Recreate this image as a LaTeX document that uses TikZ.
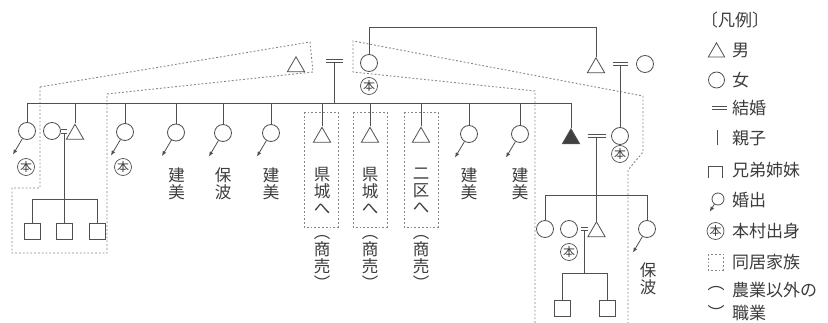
\documentclass[tikz,border=0pt]{standalone}
\usepackage{fontspec}
\newfontfamily\cjk{Noto Sans CJK JP}
\usetikzlibrary{shapes.geometric,arrows.meta,calc}
\definecolor{ln}{HTML}{505050}
\definecolor{tx}{HTML}{3C3C3C}
\definecolor{dsh}{HTML}{858585}
\begin{document}
\begin{tikzpicture}[x=1pt,y=-1pt,
  every node/.style={font=\cjk, text=tx},
  lne/.style={draw=ln, line width=0.8pt},
  male/.style={regular polygon, regular polygon sides=3, draw=ln, line width=0.8pt, minimum size=20pt, inner sep=0pt, anchor=north},
  female/.style={circle, draw=ln, line width=0.8pt, minimum size=17pt, inner sep=0pt},
  kid/.style={rectangle, draw=ln, line width=0.8pt, minimum size=16pt, inner sep=0pt},
  hon/.style={circle, draw=ln, line width=0.7pt, minimum size=17pt, inner sep=0pt, font=\cjk\fontsize{12}{12}\selectfont},
  marry/.style={draw=ln, double=white, double distance=2.6pt, line width=0.8pt},
  outarrow/.style={draw=ln, line width=0.8pt, -{Latex[length=5pt,width=4pt]}},
  cohab/.style={draw=dsh, line width=0.9pt, dash pattern=on 1.8pt off 2pt},
  vtext/.style={align=center, inner sep=0pt, font=\cjk\fontsize{16.5}{17}\selectfont},
  lgtext/.style={anchor=west, inner sep=0pt, font=\cjk\fontsize{17}{17}\selectfont}
]
\useasboundingbox (0,0) rectangle (828,323);

% ---------- cohabiting family outlines ----------
\draw[cohab] (40,87) -- (310,42) -- (313,72) -- (107,94) -- (107,253) -- (12,253) -- (12,188) -- (40,188) -- cycle;
\draw[cohab] (535,323) -- (535,91) -- (353,72) -- (353,41) -- (643,96) -- (643,152) -- (628,170) -- (628,323);
\draw[cohab] (304,112) rectangle (338,227);
\draw[cohab] (353,112) rectangle (387,227);
\draw[cohab] (404,112) rectangle (438,227);

% ---------- top generation ----------
\node[male] (gf) at (296,56) {};
\node[female] (gm) at (369,63) {};
\node[hon] (hgm) at (369,86) {本};
\coordinate (m1) at (334.5,61);
\draw[marry] ($(m1)+(-8.5,0)$) -- ($(m1)+(8.5,0)$);

\node[male] (ggf) at (596,57) {};
\node[female] (ggm) at (645,64) {};
\coordinate (m2) at (620,64);
\draw[marry] ($(m2)+(-7.5,0)$) -- ($(m2)+(7.5,0)$);
\draw[lne] (gm.north) -- ++(0,-27) -| (ggf.north);

% ---------- main sibling row ----------
\coordinate (bar) at (27,103);
\node[female] (c1) at (27,131) {};
\node[hon] (h1) at (26,167) {本};
\node[female] (c2w) at (52,131) {};
\node[male] (c2) at (75,123.5) {};
\coordinate (m3) at (64,131.5);
\draw[marry] ($(m3)+(-2.8,0)$) -- ($(m3)+(2.8,0)$);
\node[female] (c3) at (125,132) {};
\node[hon] (h3) at (123,167) {本};
\node[female] (c4) at (176,132.5) {};
\node[female] (c5) at (223,133) {};
\node[female] (c6) at (271,133) {};
\node[male] (c7) at (322,126.5) {};
\node[male] (c8) at (370,126.5) {};
\node[male] (c9) at (421,126.5) {};
\node[female] (c10) at (469,134) {};
\node[female] (c11) at (520,134) {};
\node[male, fill=ln!80!black] (c12) at (571,128) {};

\draw[lne] (bar) -- (c12.north |- bar);
\draw[lne] ($(m1)+(0,1.5)$) -- (m1 |- bar);
\foreach \n in {c1,c2,c3,c4,c5,c6,c7,c8,c9,c10,c11,c12}
  \draw[lne] (\n.north |- bar) -- (\n.north);
\foreach \n in {c1,c3,c4,c5,c6,c10,c11}
  \draw[outarrow] (\n.239) -- ++(-9.5,16);

\node[vtext] (t4) at (176.5,184) {建\\美};
\node[vtext] (t5) at (223,184) {保\\波};
\node[vtext] (t6) at (271,184) {建\\美};
\node[vtext] (t7) at (322,191) {県\\城\\へ};
\node[vtext] (t8) at (370,191) {県\\城\\へ};
\node[vtext] (t9) at (421,191) {二\\区\\へ};
\node[vtext] (t10) at (469,184) {建\\美};
\node[vtext] (t11) at (520,184) {建\\美};
\node[vtext] (s7) at (322,262) {︵\\商\\売\\︶};
\node[vtext] (s8) at (370,262) {︵\\商\\売\\︶};
\node[vtext] (s9) at (421,262) {︵\\商\\売\\︶};

% grandchildren (left)
\coordinate (b1) at (32,199);
\node[kid] (g1) at (32,231) {};
\node[kid] (g2) at (64,231) {};
\node[kid] (g3) at (97,231) {};
\draw[lne] ($(m3)+(0,1.5)$) -- (g2.north);
\draw[lne] (g1.north) -- (g1.north |- b1) -- (g3.north |- b1) -- (g3.north);

% ---------- black triangle family ----------
\node[female] (w) at (620,136) {};
\node[hon] (hw) at (620,154) {本};
\draw[lne] ($(m2)+(0,1.5)$) -- (w.north);
\coordinate (m4) at (596.5,136);
\draw[marry] ($(m4)+(-9,0)$) -- ($(m4)+(9,0)$);

\coordinate (b2) at (545,195);
\node[female] (d1) at (545,229) {};
\node[female] (d2w) at (569,229) {};
\node[hon] (hd2w) at (569,252) {本};
\coordinate (m5) at (584,229);
\draw[marry] ($(m5)+(-3.5,0)$) -- ($(m5)+(3.5,0)$);
\node[male] (d2) at (596.5,221) {};
\node[female] (d3) at (647,229) {};
\draw[lne] ($(m4)+(0,1.5)$) -- (d2.north);
\draw[lne] (d1.north) -- (d1.north |- b2) -- (d3.north |- b2) -- (d3.north);
\draw[outarrow] (d3.239) -- ++(-9.5,16);
\node[vtext] (td3) at (648,279) {保\\波};

\coordinate (b3) at (562,273);
\node[kid] (e1) at (562,308.5) {};
\node[kid] (e2) at (607,308.5) {};
\draw[lne] ($(m5)+(0,1.5)$) -- (m5 |- b3);
\draw[lne] (e1.north) -- (e1.north |- b3) -- (e2.north |- b3) -- (e2.north);

% ---------- legend ----------
\node[lgtext] (lg0) at (701,20) {〔凡例〕};
\node[male, minimum size=19pt] (lg1s) at (716.5,42) {};
\node[lgtext] (lg1) at (732,50) {男};
\node[female, minimum size=16pt] (lg2s) at (716.5,80) {};
\node[lgtext] (lg2) at (732,80) {女};
\coordinate (lg3s) at (719.5,108);
\draw[marry] ($(lg3s)+(-7.5,0)$) -- ($(lg3s)+(7.5,0)$);
\node[lgtext] (lg3) at (732,108) {結婚};
\coordinate (lg4a) at (717,130);
\coordinate (lg4b) at (717,145);
\draw[lne] (lg4a) -- (lg4b);
\node[lgtext] (lg4) at (732,138) {親子};
\coordinate (lg5a) at (708,178);
\coordinate (lg5b) at (722,178);
\draw[lne] (lg5a) -- (708,166) -- (722,166) -- (lg5b);
\node[lgtext] (lg5) at (732,170) {兄弟姉妹};
\node[female, minimum size=12pt] (lg6s) at (718,199) {};
\draw[outarrow] (lg6s.235) -- ++(-4.6,7.5);
\node[lgtext] (lg6) at (732,200) {婚出};
\node[hon] (lg7s) at (715.5,231) {本};
\node[lgtext] (lg7) at (732,231) {本村出身};
\draw[cohab] (708,254) rectangle (723,270);
\node[lgtext] (lg8) at (732,262) {同居家族};
\node[lgtext] (lg9s) at (707.5,289) {︵};
\node[lgtext] (lg9) at (732,290) {農業以外の};
\node[lgtext] (lg10s) at (707.5,312) {︶};
\node[lgtext] (lg10) at (732,313) {職業};
\end{tikzpicture}
\end{document}
